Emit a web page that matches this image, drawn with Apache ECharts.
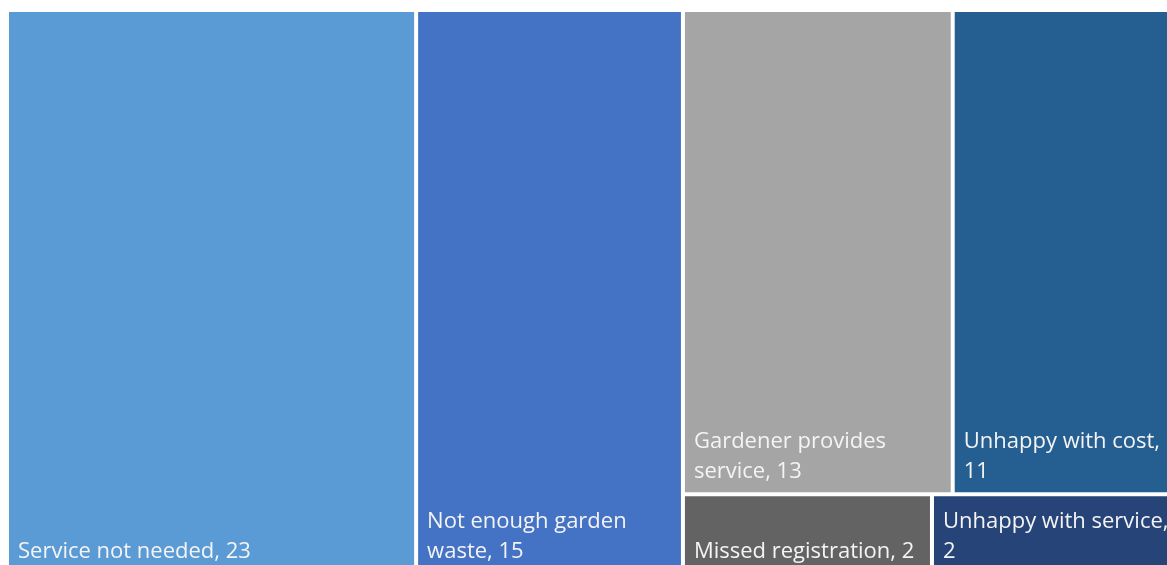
<!DOCTYPE html>
<html>
<head>
<meta charset="utf-8">
<title>Reasons for not using the garden waste service</title>
<script src="https://cdn.jsdelivr.net/npm/echarts@6/dist/echarts.min.js"></script>
<style>
  html, body { margin: 0; padding: 0; background: #ffffff; }
  #chart { width: 1167px; height: 565px; }
</style>
</head>
<body>
<div id="chart"></div>
<script>
// Reasons given and how many respondents gave each one
const categories = [
  'Service not needed',
  'Not enough garden waste',
  'Gardener provides service',
  'Unhappy with cost',
  'Missed registration',
  'Unhappy with service'
];
const counts = [23, 15, 13, 11, 2, 2];

// Fill colour for each reason, in the same order
const palette = ['#5B9BD5', '#4472C4', '#A5A5A5', '#255E91', '#636363', '#264478'];

// How the reasons are grouped into blocks (indices into categories)
const grouping = [0, 1, [[2, 3], [4, 5]]];

function buildNode(entry) {
  if (Array.isArray(entry)) {
    const children = entry.map(buildNode);
    return {
      name: '',
      value: children.reduce((s, c) => s + c.value, 0),
      children: children,
      itemStyle: { borderWidth: 0, gapWidth: 0 }
    };
  }
  return {
    name: categories[entry],
    value: counts[entry],
    itemStyle: { color: palette[entry], borderColor: '#ffffff', borderWidth: 2 }
  };
}

const treeData = grouping.map(buildNode);

const chart = echarts.init(document.getElementById('chart'), null, { renderer: 'canvas' });
chart.setOption({
  animation: false,
  series: [{
    type: 'treemap',
    left: 7,
    top: 10,
    width: 1174,
    height: 565,
    roam: false,
    nodeClick: false,
    sort: null,
    squareRatio: 1,
    breadcrumb: { show: false },
    itemStyle: { borderWidth: 0, gapWidth: 0, borderColor: '#ffffff' },
    label: {
      show: true,
      position: 'insideBottomLeft',
      distance: 0,
      padding: [0, 4, 6, 9],
      color: '#f4f4f4',
      fontFamily: '"Open Sans", "Noto Sans", sans-serif',
      fontSize: 22,
      lineHeight: 30,
      overflow: 'break',
      formatter: function (p) { return p.name + ', ' + p.value; }
    },
    upperLabel: { show: false },
    emphasis: { disabled: true },
    data: treeData
  }]
});
</script>
</body>
</html>
